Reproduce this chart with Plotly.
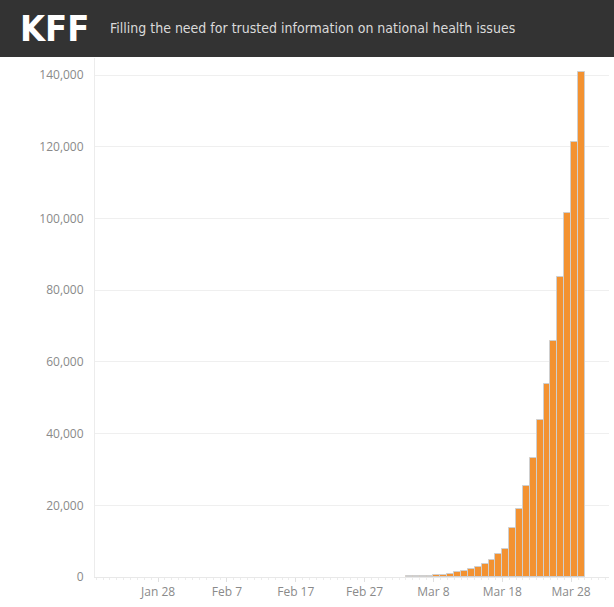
import plotly.graph_objects as go
import pandas as pd

# Casos acumulados de COVID-19 nos EUA
datas = pd.date_range("2020-01-22", "2020-03-29", freq="D")
casos = [
    1, 1, 2, 2, 5, 5, 5, 6, 6, 8,                      # Jan 22-31
    8, 8, 11, 11, 11, 12, 12, 12, 12, 12,              # Feb 1-10
    13, 13, 14, 14, 14, 14, 14, 14, 14, 14,            # Feb 11-20
    16, 16, 16, 16, 16, 16, 17, 60, 68,                # Feb 21-29
    74, 98, 118, 149, 217, 262, 402, 518, 583, 959,    # Mar 1-10
    1281, 1663, 2179, 2726, 3499, 4632, 6421, 7786,    # Mar 11-18
    13680, 19101, 25493, 33276, 43847, 53740, 65778,   # Mar 19-25
    83836, 101657, 121465, 140909,                     # Mar 26-29
]

tick_datas = ["2020-01-28", "2020-02-07", "2020-02-17", "2020-02-27",
              "2020-03-08", "2020-03-18", "2020-03-28"]
tick_textos = ["Jan 28", "Feb 7", "Feb 17", "Feb 27", "Mar 8", "Mar 18", "Mar 28"]

# Barras muito pequenas nao aparecem no original (sem contorno)
contornos = ["#cfcfcf" if v >= 140 else "rgba(0,0,0,0)" for v in casos]

fig = go.Figure()
fig.add_trace(go.Bar(
    x=datas, y=casos,
    xperiod=86400000, xperiodalignment="middle",
    marker=dict(color="#f39231", line=dict(color=contornos, width=1)),
))

fig.update_layout(
    width=614, height=607,
    margin=dict(l=95, r=5, t=58, b=30),
    paper_bgcolor="white", plot_bgcolor="white",
    bargap=0, showlegend=False,
    font=dict(family="Open Sans", size=12, color="#8a8a8a"),
)

fig.update_xaxes(
    range=["2020-01-18 20:00", "2020-04-02 12:00"],
    tickvals=tick_datas, ticktext=tick_textos,
    showgrid=False, showline=True, linecolor="#e8e8e8",
    ticks="outside", ticklen=4, tickcolor="#e0e0e0",
    minor=dict(dtick=86400000, ticks="outside", ticklen=2, tickcolor="#ececec"),
    tickfont=dict(size=12, color="#8a8a8a"),
)
fig.update_yaxes(
    range=[0, 144800], dtick=20000, tickformat=",",
    showgrid=True, gridcolor="#efefef", zeroline=False,
    showline=True, linecolor="#ececec",
    ticklabelstandoff=8,
    tickfont=dict(size=12, color="#8a8a8a"),
)

# Faixa escura do cabeçalho KFF
fig.add_shape(type="rect", xref="paper", yref="paper",
              x0=-0.5, x1=1.5, y0=1.002, y1=1.5,
              fillcolor="#333333", line=dict(width=0), layer="above")
fig.add_annotation(text="<b>KFF</b>", xref="paper", yref="paper",
                   x=-0.149, y=1.057, xanchor="left", yanchor="middle",
                   showarrow=False,
                   font=dict(family="DejaVu Sans Condensed", size=36, color="white"))
fig.add_annotation(text="Filling the need for trusted information on national health issues",
                   xref="paper", yref="paper",
                   x=0.025, y=1.058, xanchor="left", yanchor="middle",
                   showarrow=False,
                   font=dict(family="DejaVu Sans Condensed", size=14, color="#dadada"))

fig.write_html("out.html", config={"displayModeBar": False},
               post_script="document.body.style.margin='0';")
